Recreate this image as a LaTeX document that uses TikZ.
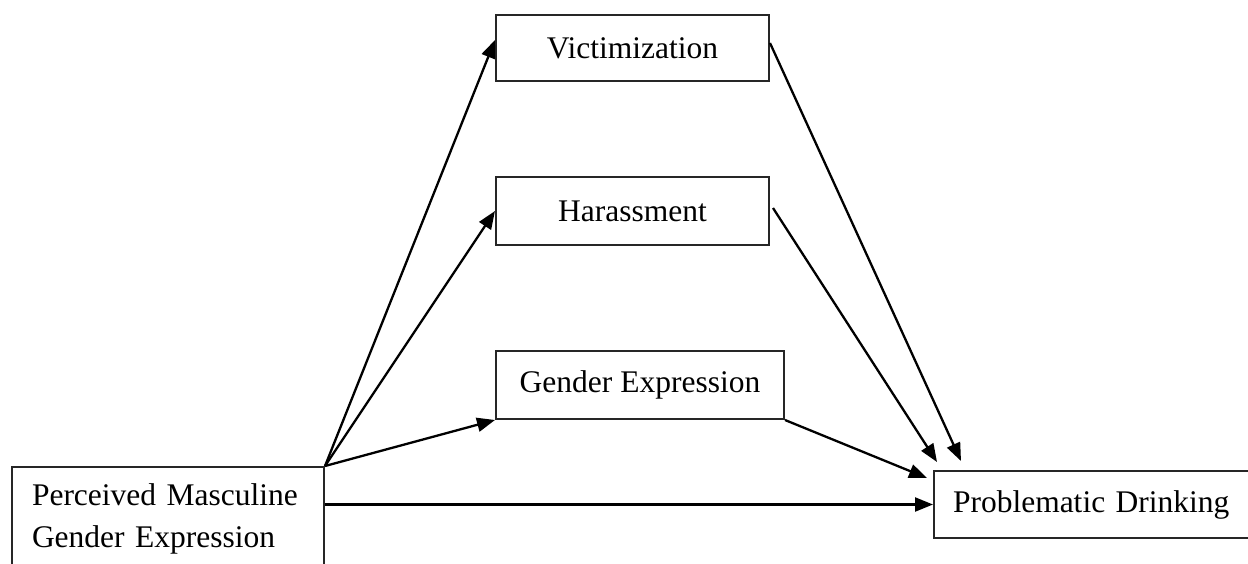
\documentclass[tikz,border=0pt]{standalone}
\usepackage{fontspec}
\setmainfont{Liberation Serif}
\usetikzlibrary{arrows.meta,calc}
\begin{document}
\begin{tikzpicture}[x=1pt,y=-1pt,
  box/.style={draw=black!85,line width=2pt,rectangle,inner sep=0pt,
    font=\fontsize{31.5}{42}\selectfont},
  arr/.style={line width=2.3pt,-{Triangle[length=18pt,width=14pt]}}]
\useasboundingbox (0,0) rectangle (1248,563);
\fill[white] (0,0) rectangle (1248,563);
\node[box,minimum width=273pt,minimum height=66pt] (vic) at (632.5,48) {Victimization};
\node[box,minimum width=273pt,minimum height=68pt] (har) at (632.5,211) {Harassment};
\node[box,minimum width=288pt,minimum height=68pt] (gen) at (640,385) {Gender Expression};
\node[box,minimum width=312pt,minimum height=104pt,align=left,text width=272pt] (per) at (168,519) {Perceived Masculine\\Gender Expression};
\node[box,minimum width=332pt,minimum height=67pt,text width=294pt,align=left] (pro) at (1100,504.5) {Problematic Drinking};
\draw[arr] (per.north east) -- ([yshift=8pt]vic.west);
\draw[arr] (per.north east) -- (har.west);
\draw[arr] (per.north east) -- (gen.south west);
\draw[arr] (per.east |- pro.west) -- (pro.west);
\draw[arr] ([yshift=5pt]vic.east) -- ([shift={(28pt,9pt)}]pro.north west);
\draw[arr] ([shift={(3pt,3pt)}]har.east) -- ([shift={(4pt,8pt)}]pro.north west);
\draw[arr] (gen.south east) -- ([shift={(-6pt,-8pt)}]pro.north west);
\end{tikzpicture}
\end{document}
